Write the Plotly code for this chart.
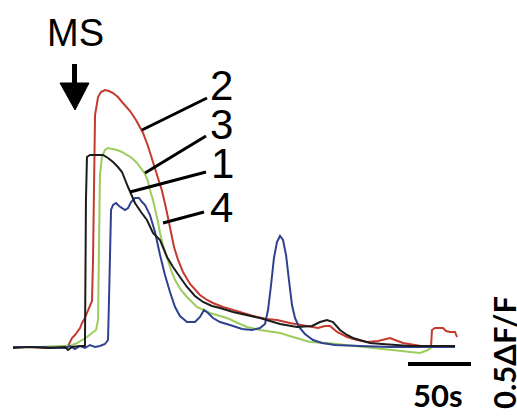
import plotly.graph_objects as go

# ---- data (time in s, response in ΔF/F) ----
t_black = [0, 13.5, 29.4, 41.3, 43.7, 46.8, 53.2, 57.1, 57.9, 58.7, 61.1, 71.4, 75.4, 79.4, 83.3, 86.5, 91.3, 96.8,
           101.6, 106.3, 111.1, 116.7, 122.2, 127.0, 132.5, 138.1, 144.4, 150.8, 157.9, 164.3, 174.6, 185.7, 196.0,
           211.9, 225.4, 237.3, 243.7, 249.2, 254.0, 259.5, 265.1, 269.8, 277.0, 283.3, 292.9, 301.6, 315.1, 328.6,
           338.9, 350.8]
y_black = [-0.01, 0, -0.01, 0, -0.03, 0, 0.01, 0.01, 1.47, 1.90, 1.92, 1.92, 1.89, 1.85, 1.80, 1.75, 1.60, 1.44,
           1.35, 1.27, 1.14, 1.07, 0.90, 0.80, 0.70, 0.60, 0.51, 0.45, 0.41, 0.39, 0.35, 0.32, 0.29,
           0.23, 0.20, 0.21, 0.25, 0.27, 0.25, 0.17, 0.12, 0.09, 0.06, 0.04, 0.03, 0.02, 0.01, 0.01,
           0.01, 0.01]

t_red = [0, 13.5, 29.4, 41.3, 43.7, 45.2, 46.8, 49.2, 50.8, 53.2, 54.8, 57.1, 58.7, 61.1, 62.7, 63.5, 64.3, 65.1,
         67.5, 69.8, 73.0, 76.2, 79.4, 83.3, 86.5, 89.7, 92.9, 97.6, 103.2, 107.1, 111.1, 115.1, 118.3, 121.4,
         124.6, 127.8, 131.0, 134.9, 140.5, 148.4, 154.0, 158.7, 166.7, 174.6, 184.1, 193.7, 201.6, 209.5, 219.8,
         231.7, 242.1, 247.6, 251.6, 257.2, 265.1, 273.0, 281.0, 289.7, 299.2, 303.2, 309.5, 319.1, 328.6, 331.8,
         332.5, 334.9, 341.3, 343.7, 346.8, 350.8, 352.4]
y_red = [0, 0, -0.01, 0, 0.01, 0.05, 0.09, 0.12, 0.15, 0.19, 0.24, 0.29, 0.34, 0.41, 0.46, 0.87, 1.77, 2.32,
         2.50, 2.55, 2.57, 2.56, 2.54, 2.50, 2.45, 2.41, 2.36, 2.27, 2.14, 2.01, 1.85, 1.70, 1.56, 1.39,
         1.19, 1.00, 0.87, 0.75, 0.63, 0.52, 0.47, 0.44, 0.40, 0.37, 0.33, 0.30, 0.28, 0.27, 0.24,
         0.21, 0.19, 0.21, 0.21, 0.15, 0.10, 0.07, 0.05, 0.06, 0.09, 0.07, 0.04, 0.02, 0, 0.01,
         0.17, 0.19, 0.19, 0.16, 0.15, 0.15, 0.10]

t_green = [0, 21.4, 37.3, 45.2, 50.8, 54.8, 58.7, 62.7, 65.9, 67.5, 68.3, 69.0, 70.6, 73.0, 75.4, 79.4, 82.5, 86.5,
           90.5, 94.4, 98.4, 101.6, 104.8, 107.1, 108.7, 111.1, 113.5, 115.1, 116.7, 119.0, 122.2, 125.4, 128.6,
           133.3, 138.1, 146.0, 156.3, 169.8, 180.2, 185.7, 196.0, 211.9, 222.2, 235.7, 249.2, 265.1, 288.9,
           303.2, 315.1, 323.0, 329.4, 332.5, 350.8]
y_green = [0, 0, 0.01, 0.01, 0.04, 0.07, 0.10, 0.14, 0.17, 0.27, 0.97, 1.72, 1.90, 1.97, 1.99, 1.98, 1.97, 1.95,
           1.92, 1.89, 1.84, 1.79, 1.73, 1.66, 1.57, 1.47, 1.35, 1.25, 1.14, 1.02, 0.90, 0.77, 0.67,
           0.57, 0.50, 0.40, 0.34, 0.29, 0.23, 0.20, 0.17, 0.14, 0.10, 0.05, 0.04, 0.02, -0.01,
           -0.03, -0.05, -0.06, -0.03, 0, 0]

t_blue = [0, 21.4, 41.3, 45.2, 49.2, 53.2, 57.1, 61.1, 65.1, 69.0, 73.0, 75.4, 76.2, 77.0, 77.8, 79.4, 81.8, 84.1,
          86.5, 88.9, 91.3, 93.7, 96.8, 100.0, 102.4, 104.8, 108.7, 112.7, 116.7, 120.6, 124.6, 128.6, 132.5,
          138.1, 144.4, 148.4, 151.6, 154.8, 158.7, 164.3, 172.2, 181.8, 189.7, 196.0, 200.0, 202.4, 204.8,
          207.1, 209.5, 211.9, 214.3, 216.7, 219.0, 221.4, 223.8, 227.0, 231.7, 238.1, 245.2, 255.6, 275.4,
          299.2, 323.0, 350.8]
y_blue = [0, 0, -0.01, 0.01, -0.02, 0.01, -0.01, 0.02, 0, 0.01, 0.03, 0.07, 0.47, 1.17, 1.37, 1.42, 1.44, 1.41,
          1.39, 1.37, 1.39, 1.45, 1.49, 1.49, 1.45, 1.42, 1.32, 1.15, 0.92, 0.72, 0.55, 0.40, 0.31,
          0.25, 0.25, 0.30, 0.37, 0.34, 0.29, 0.25, 0.22, 0.18, 0.17, 0.19, 0.23, 0.37, 0.62,
          0.89, 1.05, 1.11, 1.07, 0.92, 0.67, 0.42, 0.29, 0.20, 0.13, 0.07, 0.04, 0.02, 0.01,
          0, 0, 0]

trace_labels = ["2", "3", "1", "4"]
stim_label = "MS"
time_bar_s = 50
time_bar_label = "50s"
amp_bar_label = "0.5\u0394F/F"

W, H = 517, 417
X_RANGE = [-10.32, 400.0]
Y_RANGE = [-0.70, 3.47]


def px(x):
    return x / W


def py(y):
    return 1 - y / H


fig = go.Figure()
series = [
    (t_red, y_red, "#c43a2e"),
    (t_green, y_green, "#9ccc5c"),
    (t_blue, y_blue, "#2e4290"),
    (t_black, y_black, "#1c1c1c"),
]
for tx, ty, col in series:
    fig.add_trace(go.Scatter(x=tx, y=ty, mode="lines", line=dict(color=col, width=2),
                             hoverinfo="skip", showlegend=False))

shapes = []
# stimulus arrow
shapes.append(dict(type="line", xref="paper", yref="paper", x0=px(74.5), x1=px(74.5), y0=py(64), y1=py(86),
                   line=dict(color="black", width=5)))
shapes.append(dict(type="path", xref="paper", yref="paper",
                   path=f"M {px(60)} {py(83)} L {px(89)} {py(83)} L {px(75)} {py(110)} Z",
                   fillcolor="black", line=dict(color="black", width=1)))
# leader lines
leaders = [((142, 130), (207, 98)), ((145, 173), (206, 136)), ((130, 192), (206, 172)), ((163, 223), (204, 212))]
for (a, b) in leaders:
    shapes.append(dict(type="line", xref="paper", yref="paper", x0=px(a[0]), y0=py(a[1]), x1=px(b[0]), y1=py(b[1]),
                       line=dict(color="black", width=3)))
# time scale bar (data coordinates)
bar_start = 313.5
shapes.append(dict(type="line", xref="x", yref="y", x0=bar_start, x1=bar_start + time_bar_s, y0=-0.17, y1=-0.17,
                   line=dict(color="black", width=4)))

annotations = []
annotations.append(dict(x=px(75), y=py(33), xref="paper", yref="paper", text=stim_label, showarrow=False,
                        font=dict(family="Liberation Sans, Arial", size=38, color="black"),
                        xanchor="center", yanchor="middle"))
label_pos = [(221, 85), (221, 124), (222, 163), (221, 207)]
for lab, (x, y) in zip(trace_labels, label_pos):
    annotations.append(dict(x=px(x), y=py(y), xref="paper", yref="paper", text=lab, showarrow=False,
                            font=dict(family="Liberation Sans, Arial", size=42, color="black"),
                            height=36, valign="middle",
                            xanchor="center", yanchor="middle"))
annotations.append(dict(x=px(438), y=py(395), xref="paper", yref="paper", text=f"<b>{time_bar_label}</b>",
                        showarrow=False, font=dict(family="Lato, Open Sans", size=31, color="black"),
                        xanchor="center", yanchor="middle"))
annotations.append(dict(x=px(504), y=py(353), xref="paper", yref="paper", text=f"<b>{amp_bar_label}</b>",
                        showarrow=False, textangle=-90, font=dict(family="Lato, Open Sans", size=31, color="black"),
                        xanchor="center", yanchor="middle", borderpad=0))

fig.update_layout(
    width=W, height=H, margin=dict(l=0, r=0, t=0, b=0),
    paper_bgcolor="white", plot_bgcolor="white",
    xaxis=dict(range=X_RANGE, visible=False, fixedrange=True),
    yaxis=dict(range=Y_RANGE, visible=False, fixedrange=True),
    shapes=shapes, annotations=annotations, showlegend=False,
)
fig.write_html("out.html", config={"displayModeBar": False, "staticPlot": True},
               post_script="document.body.style.margin='0px';document.documentElement.style.overflow='hidden';")
